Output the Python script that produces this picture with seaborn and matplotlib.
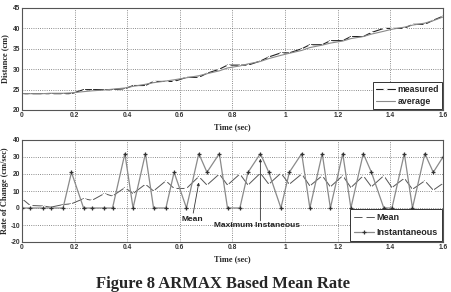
import numpy as np
import pandas as pd
import matplotlib
matplotlib.use("Agg")
import matplotlib.pyplot as plt
import seaborn as sns

# sample times (sec)
time = [0, 0.031, 0.078, 0.109, 0.156, 0.188, 0.234, 0.266, 0.313, 0.344,
        0.391, 0.422, 0.469, 0.5, 0.547, 0.578, 0.625, 0.672, 0.703, 0.75,
        0.781, 0.828, 0.859, 0.906, 0.938, 0.984, 1.016, 1.063, 1.094, 1.141,
        1.172, 1.219, 1.25, 1.297, 1.328, 1.375, 1.406, 1.453, 1.484, 1.531,
        1.563, 1.6]

measured = [24, 24, 24, 24, 24, 24, 25, 25, 25, 25,
            25.2, 26, 26, 27, 27, 27, 28, 28, 29, 30,
            31, 31, 31, 32, 33, 34, 34, 35, 36, 36,
            37, 37, 38, 38, 39, 40, 40, 40, 41, 41,
            42, 43]

average = [24.0, 24.0, 24.0, 24.1, 24.1, 24.2, 24.5, 24.7, 24.9, 25.1,
           25.4, 25.8, 26.3, 26.7, 27.1, 27.4, 27.9, 28.4, 28.9, 29.6,
           30.3, 30.8, 31.3, 31.9, 32.6, 33.4, 33.9, 34.6, 35.3, 35.9,
           36.4, 36.9, 37.5, 38.0, 38.6, 39.3, 39.8, 40.3, 40.8, 41.3,
           41.9, 42.8]

mean_rate = [5.5, 1.5, 1.2, 0.5, 2, 2.5, 5.5, 4.5, 8.5, 7,
             12, 8.5, 14, 10, 16, 11.5, 11.5, 18.5, 13.5, 20,
             13.5, 20, 13.5, 20.5, 14, 20.5, 14, 20, 13, 19,
             12.5, 19, 12, 19, 12.5, 19, 12, 17.5, 11, 16,
             10.5, 14.5]

inst_rate = [0, 0, 0, 0, 0, 21, 0, 0, 0, 0,
             32, 0, 32, 0, 0, 21, 0, 32, 21, 32,
             0, 0, 21, 32, 21, 0, 21, 32, 0, 32,
             0, 32, 0, 32, 21, 0, 0, 32, 0, 32,
             21, 30]

df = pd.DataFrame({"time": time, "measured": measured, "average": average,
                   "mean": mean_rate, "inst": inst_rate})

sns.set_style("white")
plt.rcParams["font.family"] = ["Liberation Sans", "DejaVu Sans"]

W, H = 452, 292
fig = plt.figure(figsize=(W / 100, H / 100), dpi=100)
ax1 = fig.add_axes([22 / W, 1 - 110 / H, 421 / W, 102 / H])
ax2 = fig.add_axes([22 / W, 1 - 242 / H, 421 / W, 102 / H])

serif = dict(family="Liberation Serif", weight="bold", size=6)
tickfont = dict(family="Liberation Sans", weight="bold", size=4.8)

sns.lineplot(data=df, x="time", y="measured", ax=ax1, color="#222222", lw=0.8,
             marker="+", markersize=3, markeredgewidth=0.8, label="measured")
sns.lineplot(data=df, x="time", y="average", ax=ax1, color="#8a8a8a", lw=0.8,
             label="average")

sns.lineplot(data=df, x="time", y="mean", ax=ax2, color="#555555", lw=0.7,
             marker="+", markersize=3, markeredgewidth=0.8, label="Mean")
sns.lineplot(data=df, x="time", y="inst", ax=ax2, color="#8a8a8a", lw=0.9,
             marker="+", markersize=3.5, markeredgewidth=0.9, markeredgecolor="#333333",
             label="Instantaneous")

for ax, ylim, yticks, ylab in [(ax1, (20, 45), range(20, 46, 5), "Distance (cm)"),
                               (ax2, (-20, 40), range(-20, 41, 10), "Rate of Change (cm/sec)")]:
    ax.set_xlim(0, 1.6)
    ax.set_ylim(*ylim)
    ax.set_xticks([0, 0.2, 0.4, 0.6, 0.8, 1, 1.2, 1.4, 1.6])
    ax.set_xticklabels(["0", "0.2", "0.4", "0.6", "0.8", "1", "1.2", "1.4", "1.6"], **tickfont)
    ax.set_yticks(list(yticks))
    ax.set_yticklabels([str(v) for v in yticks], **tickfont)
    ax.grid(True, linestyle=":", color="#666666", linewidth=0.6)
    ax.tick_params(direction="in", length=2, width=0.5, pad=1.5, colors="#333333")
    for s in ax.spines.values():
        s.set_color("#555555")
        s.set_linewidth(0.8)
    ax.set_xlabel("Time (sec)", labelpad=3, **serif)
    ax.set_ylabel(ylab, **serif)
    ax.yaxis.set_label_coords(-0.030, 0.5)

leg1 = ax1.legend(loc="lower right", fancybox=False, framealpha=1, edgecolor="#333333",
                  prop=dict(family="Liberation Sans", weight="bold", size=6.3),
                  handlelength=2.2, borderpad=0.3, labelspacing=0.35, handletextpad=0.3,
                  borderaxespad=0.15)
leg1.get_frame().set_linewidth(0.7)
leg2 = ax2.legend(loc="lower right", fancybox=False, framealpha=1, edgecolor="#333333",
                  prop=dict(family="Liberation Sans", weight="bold", size=6.5),
                  handlelength=2.2, borderpad=0.45, labelspacing=0.7, handletextpad=0.3,
                  borderaxespad=0.1)
leg2.get_frame().set_linewidth(0.7)

ann = dict(family="Liberation Sans", weight="bold", size=6, color="#222222")
ax2.annotate("Mean", xy=(0.672, 15), xytext=(0.605, -7), va="center", ha="left",
             arrowprops=dict(arrowstyle="-|>", color="#333333", lw=0.6,
                             mutation_scale=4, shrinkA=0, shrinkB=0), **ann)
ax2.annotate("Maximum Instaneous", xy=(0.906, 29), xytext=(0.728, -10.5), va="center",
             ha="left", **ann)
ax2.annotate("", xy=(0.906, 29), xytext=(0.906, -7.5),
             arrowprops=dict(arrowstyle="-|>", color="#333333", lw=0.6,
                             mutation_scale=4, shrinkA=0, shrinkB=0))

fig.text(223.5 / W, 1 - 288 / H, "Figure 8 ARMAX Based Mean Rate", ha="center",
         va="baseline", family="Liberation Serif", weight="bold", size=12)

fig.savefig("out.png", dpi=100)
